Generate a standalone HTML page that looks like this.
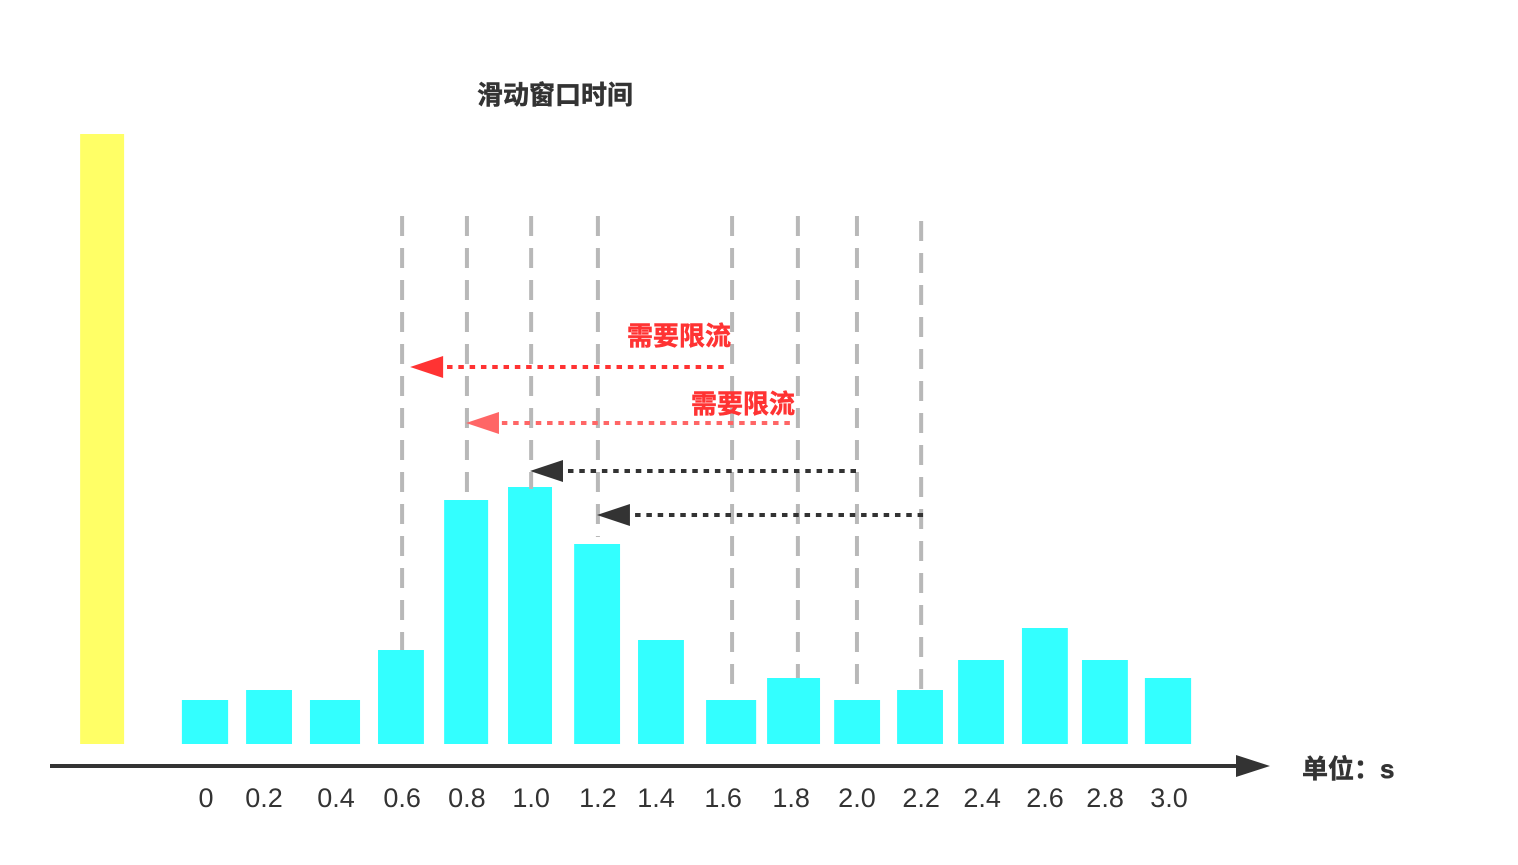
<!DOCTYPE html>
<html lang="zh">
<head>
<meta charset="utf-8">
<title>滑动窗口时间</title>
<style>
html,body{margin:0;padding:0;background:#fff;width:1518px;height:865px;overflow:hidden}
svg{display:block}
.cjk{font-family:"Liberation Sans","Noto Sans CJK SC",sans-serif;font-weight:700;stroke-width:.5px}
.tick{font-family:"Liberation Sans","Noto Sans CJK SC",sans-serif;font-size:27px;fill:#333;text-anchor:middle}
</style>
</head>
<body>
<svg id="chart" width="1518" height="865" viewBox="0 0 1518 865" xmlns="http://www.w3.org/2000/svg">
  <text class="cjk" x="477" y="104" font-size="26" fill="#333" stroke="#333">滑动窗口时间</text>
  <g id="bars"></g>
  <g id="guides"></g>
  <g id="arrows"></g>
  <text class="cjk" x="627" y="345" font-size="26" fill="#ff3333" stroke="#ff3333">需要限流</text>
  <text class="cjk" x="691" y="413" font-size="26" fill="#ff3333" stroke="#ff3333">需要限流</text>
  <g>
    <line x1="50" y1="766" x2="1240" y2="766" stroke="#333" stroke-width="4"/>
    <polygon points="1236,755 1270,766 1236,777" fill="#333"/>
  </g>
  <g id="ticks"></g>
  <text class="cjk" x="1302" y="778" font-size="26" fill="#333" stroke="#333">单位：s</text>
</svg>
<script>
/* x positions are in seconds along the hand-placed axis; heights in request units */
const tickLabels = ['0','0.2','0.4','0.6','0.8','1.0','1.2','1.4','1.6','1.8','2.0','2.2','2.4','2.6','2.8','3.0'];
const tickTimes = [0.003,0.184,0.408,0.614,0.816,1.016,1.224,1.405,1.614,1.826,2.031,2.231,2.421,2.617,2.804,3.003];
const barStart = [-0.072,0.128,0.327,0.539,0.745,0.944,1.150,1.349,1.561,1.751,1.960,2.156,2.346,2.545,2.732,2.928];
const barEnd = [0.072,0.271,0.483,0.682,0.882,1.081,1.293,1.492,1.717,1.916,2.103,2.299,2.489,2.688,2.875,3.072];
const barValues = [22,27,22,47,122,128.5,100,52,22,33,22,27,42,58,42,33];
const refBarStart = -0.389;
const refBarEnd = -0.252;
const refBarValue = 305;
const guideTimes = [0.614,0.816,1.016,1.224,1.642,1.847,2.031,2.231];
const guideTopValues = [264,264,264,264,264,264,264,261.5];
const guideBottomValues = [47,122,127.5,103.5,29.5,33,29,27];
const arrowFrom = [1.616,1.822,2.028,2.237];
const arrowTo = [0.639,0.813,1.0125,1.221];
const arrowLevels = [188.5,160.5,136.5,114.5];
const arrowColors = ['#ff3333','#ff6666','#333333','#333333'];

const NS = 'http://www.w3.org/2000/svg';
const x = t => 205 + t * 321;
const y = v => 744 - v * 2;

function make(tag, attrs, parent) {
  const el = document.createElementNS(NS, tag);
  for (const k in attrs) el.setAttribute(k, attrs[k]);
  parent.appendChild(el);
  return el;
}

const barsG = document.getElementById('bars');
const refBar = make('rect', {x: x(refBarStart), y: y(refBarValue), width: x(refBarEnd) - x(refBarStart), height: 744 - y(refBarValue), fill: '#ffff66'}, barsG);



barValues.forEach((v, i) => {
  const r = make('rect', {x: x(barStart[i]), y: y(v), width: x(barEnd[i]) - x(barStart[i]), height: 744 - y(v), fill: '#33ffff'}, barsG);
  
  
});

const guidesG = document.getElementById('guides');
guideTimes.forEach((t, i) => {
  const l = make('line', {x1: x(t), x2: x(t), y1: y(guideTopValues[i]), y2: y(guideBottomValues[i]), stroke: '#b8b8b8', 'stroke-width': 4, 'stroke-dasharray': '20 12'}, guidesG);
  
  
});

const arrowsG = document.getElementById('arrows');
arrowFrom.forEach((t, i) => {
  const yy = y(arrowLevels[i]);
  const tip = x(arrowTo[i]);
  const tail = x(t);
  const c = arrowColors[i];
  const l = make('line', {x1: tail, x2: tip + 32, y1: yy, y2: yy, stroke: c, 'stroke-width': 4, 'stroke-dasharray': '5.5 5.8'}, arrowsG);
  
  
  const h = make('polygon', {points: tip + ',' + yy + ' ' + (tip + 33) + ',' + (yy - 11) + ' ' + (tip + 33) + ',' + (yy + 11), fill: c}, arrowsG);
  
  
});

const ticksG = document.getElementById('ticks');
tickLabels.forEach((s, i) => {
  const t = make('text', {x: x(tickTimes[i]), y: 807, class: 'tick'}, ticksG);
  t.textContent = s;
  
  
});
</script>
</body>
</html>
